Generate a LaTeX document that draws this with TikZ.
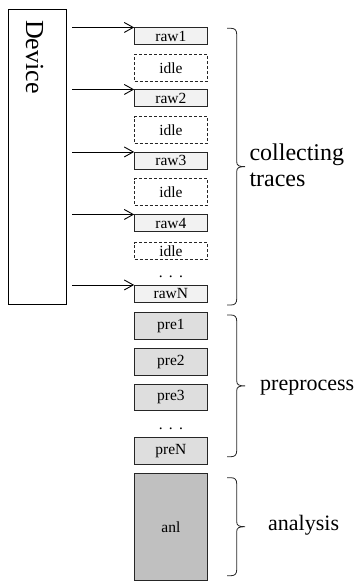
\documentclass[tikz,border=0pt]{standalone}
\usepackage{fontspec}
\setmainfont{Liberation Serif}
\usetikzlibrary{arrows.meta}
\definecolor{rawfill}{HTML}{F2F2F2}
\definecolor{prefill}{HTML}{DEDEDE}
\definecolor{anlfill}{HTML}{C0C0C0}
\begin{document}
\begin{tikzpicture}[x=1pt,y=-1pt,
  box/.style={draw=black!85, line width=0.7pt, minimum width=72.8pt, inner sep=0pt,
    font=\fontsize{15.5}{18}\selectfont},
  rawbox/.style={box, fill=rawfill, minimum height=17pt},
  idlebox/.style={box, dash pattern=on 3pt off 2pt, minimum height=26.7pt},
  prebox/.style={box, fill=prefill, minimum height=26.7pt},
  arr/.style={-{Straight Barb[length=9pt,width=10pt]}, line width=0.9pt, shorten <=5pt},
  brk/.style={line width=0.8pt, black!85},
  lbl/.style={anchor=base west, inner sep=0pt, align=left},
  dotsty/.style={anchor=base, inner sep=0pt, font=\fontsize{15.5}{18}\selectfont}]
\useasboundingbox (0,0) rectangle (354,581);
% device
\node[draw, line width=0.7pt, minimum width=58.7pt, minimum height=294.7pt, inner sep=0pt] (dev) at (37.35,156.65) {};
\node[rotate=-90, anchor=base west, inner sep=0pt, font=\fontsize{26}{30}\selectfont] (devlbl) at (26,20) {Device};
% raw / idle
\node[rawbox] (raw1) at (170.9,36.3) {raw1};
\node[idlebox] (idle1) at (170.9,67.7) {idle};
\node[rawbox] (raw2) at (170.9,98.3) {raw2};
\node[idlebox] (idle2) at (170.9,130) {idle};
\node[rawbox] (raw3) at (170.9,160.8) {raw3};
\node[idlebox] (idle3) at (170.9,192) {idle};
\node[rawbox] (raw4) at (170.9,223.3) {raw4};
\node[idlebox, minimum height=16.7pt] (idle4) at (170.9,251) {idle};
\node[dotsty] (dots1) at (170.9,277) {.\hspace{6.2pt}.\hspace{6.2pt}.};
\node[rawbox] (rawN) at (170.9,293.8) {rawN};
% pre
\node[prebox] (pre1) at (170.9,326) {pre1};
\node[prebox] (pre2) at (170.9,361.7) {pre2};
\node[prebox] (pre3) at (170.9,397.3) {pre3};
\node[dotsty] (dots2) at (170.9,429) {.\hspace{6.2pt}.\hspace{6.2pt}.};
\node[prebox] (preN) at (170.9,451) {preN};
% analysis
\node[box, fill=anlfill, minimum height=106.7pt] (anl) at (170.9,526.7) {anl};
% arrows
\foreach \r in {raw1,raw2,raw3,raw4,rawN}
  \draw[arr] (dev.east |- \r.north west) -- (\r.north west);
% brackets
\foreach \a/\b in {28.3/305, 315/456.7, 477.7/575.7} {
  \pgfmathsetmacro\m{(\a+\b)/2}
  \draw[brk] (227,\a) -- (231,\a) .. controls (235,\a) and (236.7,\a+2) .. (236.7,\a+6)
    -- (236.7,\m-5) .. controls (236.7,\m-1) and (239,\m) .. (245,\m)
    .. controls (239,\m) and (236.7,\m+1) .. (236.7,\m+5)
    -- (236.7,\b-6) .. controls (236.7,\b-2) and (235,\b) .. (231,\b) -- (227,\b);
}
% labels
\node[lbl, font=\fontsize{24}{26}\selectfont] (lcol) at (249.3,186.7) {collecting\\traces};
\node[lbl, font=\fontsize{22}{26}\selectfont] (lpre) at (260,390) {preprocess};
\node[lbl, font=\fontsize{22}{26}\selectfont] (lanl) at (268,530) {analysis};
\end{tikzpicture}
\end{document}
